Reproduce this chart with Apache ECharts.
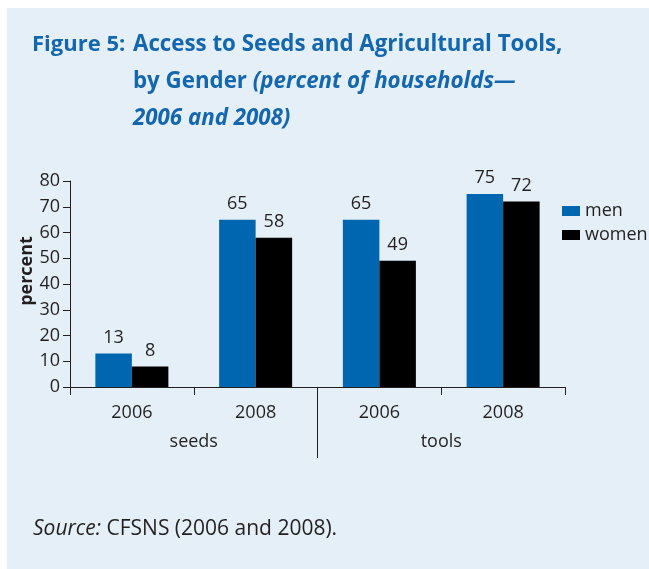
<!DOCTYPE html>
<html>
<head>
<meta charset="utf-8">
<script src="https://cdn.jsdelivr.net/npm/echarts@6/dist/echarts.min.js"></script>
<style>
  html, body { margin: 0; padding: 0; background: #fff; }
  #chart { width: 649px; height: 569px; }
</style>
</head>
<body>
<div id="chart"></div>
<script>
// data
var years = ['2006', '2008', '2006', '2008'];
var groups = ['seeds', 'tools'];
var men = [13, 65, 65, 75];
var women = [8, 58, 49, 72];
var yTicks = [0, 10, 20, 30, 40, 50, 60, 70, 80];

var txt = '#231f20';
var blue = '#0066b0';
var titleBlue = '#1467ae';
var font = '"Open Sans", "Noto Sans", sans-serif';

var chart = echarts.init(document.getElementById('chart'));

// separator axis: three points, only the middle one gets a long tick
var sepAxis = ['', groups.join('|'), ''];

var titleStyle = { fontFamily: font, fontWeight: 'bold', fontSize: 22, color: titleBlue, lineHeight: 37 };

var option = {
    backgroundColor: '#fff',
    textStyle: { fontFamily: font, color: txt },
    graphic: [
        {
            type: 'rect', z: -10, silent: true,
            shape: { x: 7, y: 8, width: 642, height: 561 },
            style: { fill: '#e5eff7' }
        }
    ],
    title: [
        {
            text: 'Figure 5:',
            left: 32, top: 26, padding: 0,
            textStyle: titleStyle
        },
        {
            text: 'Access to Seeds and Agricultural Tools,\nby Gender {i|(percent of households\u2014}\n{i|2006 and 2008)}',
            left: 133, top: 26, padding: 0,
            textStyle: {
                fontFamily: font, fontWeight: 'bold', fontSize: 22.3, color: titleBlue, lineHeight: 37,
                rich: {
                    i: { fontFamily: font, fontWeight: 'bold', fontStyle: 'italic', fontSize: 22.3, color: titleBlue, lineHeight: 37 }
                }
            }
        },
        {
            text: '{i|Source:} CFSNS (2006 and 2008).',
            left: 33, top: 519, padding: 0,
            textStyle: {
                fontFamily: font, fontWeight: 'normal', fontSize: 21, color: txt,
                rich: { i: { fontFamily: font, fontStyle: 'italic', fontSize: 21, color: txt } }
            }
        }
    ],
    legend: {
        orient: 'vertical',
        left: 557, top: 197,
        itemWidth: 18, itemHeight: 10, itemGap: 6,
        icon: 'rect',
        textStyle: { fontFamily: font, fontSize: 18, color: txt },
        data: ['men', 'women']
    },
    grid: { left: 70, right: 84, top: 181, bottom: 182, containLabel: false },
    xAxis: [
        {
            type: 'category',
            data: years,
            position: 'bottom',
            axisLine: { lineStyle: { color: txt, width: 1 } },
            axisTick: { show: true, length: 8, lineStyle: { color: txt } },
            axisLabel: { fontSize: 18, color: txt, margin: 17, fontFamily: font }
        },
        {
            type: 'category',
            data: groups,
            position: 'bottom',
            offset: 29,
            axisLine: { show: false },
            axisTick: { show: false },
            axisLabel: { fontSize: 18, color: txt, margin: 17, fontFamily: font }
        },
        {
            type: 'category',
            data: sepAxis,
            boundaryGap: false,
            position: 'bottom',
            axisLine: { show: false },
            axisTick: {
                show: true, length: 71,
                interval: function (i) { return i === 1; },
                lineStyle: { color: txt }
            },
            axisLabel: { show: false }
        }
    ],
    yAxis: {
        type: 'value',
        min: yTicks[0], max: yTicks[yTicks.length - 1], interval: 10,
        name: 'percent',
        nameLocation: 'middle',
        nameGap: 34,
        nameMoveOverlap: false,
        nameTextStyle: { fontFamily: font, fontWeight: 'bold', fontSize: 18, color: txt, padding: [0, 0, 0, 26] },
        axisLine: { show: true, lineStyle: { color: txt } },
        axisTick: { show: true, length: 7, lineStyle: { color: txt } },
        axisLabel: { fontSize: 18, color: txt, margin: 10, fontFamily: font },
        splitLine: { show: false }
    },
    series: [
        {
            name: 'men', type: 'bar', data: men,
            itemStyle: { color: blue },
            barGap: '0%', barCategoryGap: '41%',
            label: { show: true, position: 'top', distance: 7, fontSize: 18, color: txt, fontFamily: font }
        },
        {
            name: 'women', type: 'bar', data: women,
            itemStyle: { color: '#000' },
            barGap: '0%', barCategoryGap: '41%',
            label: { show: true, position: 'top', distance: 7, fontSize: 18, color: txt, fontFamily: font }
        }
    ]
};

chart.setOption(option);
</script>
</body>
</html>
